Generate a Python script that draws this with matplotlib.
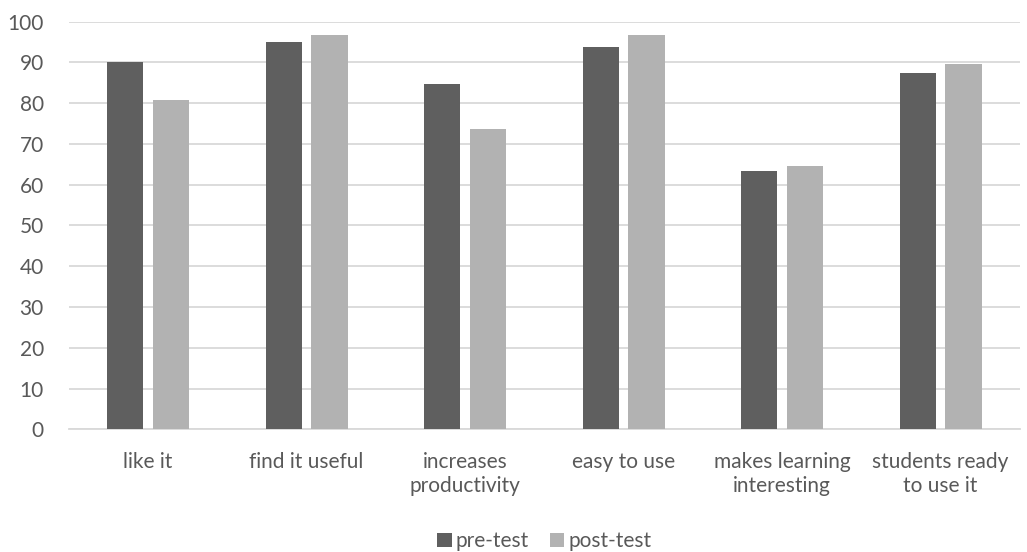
import numpy as np
import matplotlib.pyplot as plt

categories = ["like it", "find it useful", "increases\nproductivity", "easy to use",
              "makes learning\ninteresting", "students ready\nto use it"]
pre_test = [90.0, 94.9, 84.6, 93.8, 63.4, 87.4]
post_test = [80.8, 96.6, 73.7, 96.6, 64.5, 89.6]

plt.rcParams['font.family'] = ['Lato', 'DejaVu Sans']
txt = '#595959'

fig = plt.figure(figsize=(10.27, 5.52), dpi=100)
ax = fig.add_axes([0.067, 0.222, 0.926, 0.739])

x = np.arange(len(categories))
w = 0.228
ax.bar(x - 0.145, pre_test, w, color='#5f5f5f', label='pre-test', zorder=3)
ax.bar(x + 0.145, post_test, w, color='#b2b2b2', label='post-test', zorder=3)

ax.set_xlim(-0.5, len(categories) - 0.5)
ax.set_ylim(0, 100)
ax.set_yticks(range(0, 101, 10))
ax.set_xticks(x)
ax.set_xticklabels(categories, linespacing=1.25)
ax.grid(axis='y', color='#d9d9d9', linewidth=1.3, zorder=0)
for s in ['top', 'right', 'left']:
    ax.spines[s].set_visible(False)
ax.spines['bottom'].set_color('#d9d9d9')
ax.spines['bottom'].set_linewidth(1.3)
ax.tick_params(axis='both', length=0, labelsize=15, colors=txt)
ax.tick_params(axis='x', pad=16)
ax.tick_params(axis='y', pad=18)

leg = ax.legend(loc='lower center', bbox_to_anchor=(0.5, -0.345), ncol=2, frameon=False,
                fontsize=15, handlelength=0.7, handleheight=0.7, handletextpad=0.2,
                columnspacing=1.0)
for t in leg.get_texts():
    t.set_color(txt)

fig.savefig('out.png', dpi=100)
